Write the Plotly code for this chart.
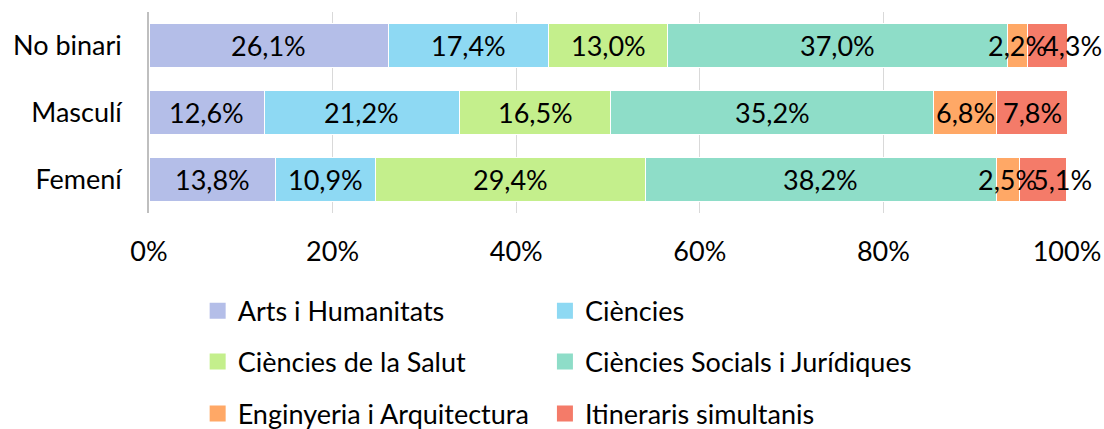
import plotly.graph_objects as go
import numpy as np

categories = ["Femení", "Masculí", "No binari"]
series_names = ["Arts i Humanitats", "Ciències", "Ciències de la Salut",
                "Ciències Socials i Jurídiques", "Enginyeria i Arquitectura",
                "Itineraris simultanis"]
arts = [13.8, 12.6, 26.1]
ciencies = [10.9, 21.2, 17.4]
salut = [29.4, 16.5, 13.0]
socials = [38.2, 35.2, 37.0]
enginyeria = [2.5, 6.8, 2.2]
itineraris = [5.1, 7.8, 4.3]
tick_vals = [0, 20, 40, 60, 80, 100]
tick_text = ["0%", "20%", "40%", "60%", "80%", "100%"]

colors = ["#B4BEE8", "#8ED9F3", "#C4EF8C", "#8EDDC8", "#FFA866", "#F47B69"]
values = [arts, ciencies, salut, socials, enginyeria, itineraris]
legend_ids = ["legend", "legend2", "legend3", "legend4", "legend5", "legend6"]

FONT = "Lato"
FS = 27
PLOT_W = 918          # plot area width in px (used to nudge crowded labels)
LABEL_W = 55          # approximate label width in px

fig = go.Figure()
for name, vals, col in zip(series_names, values, colors):
    fig.add_trace(go.Bar(
        y=categories, x=vals, name=name, orientation="h", showlegend=False,
        marker=dict(color=col, line=dict(color="white", width=1)),
        hoverinfo="skip",
    ))

# legend proxies (larger square swatches)
for name, col, lg in zip(series_names, colors, legend_ids):
    fig.add_trace(go.Scatter(
        x=[None], y=[None], mode="markers", name=name, legend=lg,
        marker=dict(symbol="square", size=16, color=col, line=dict(width=0)),
    ))

# value labels on top of all bars, nudging crowded neighbours apart
arr = np.array(values)
cum = np.cumsum(arr, axis=0) - arr
mids = cum + arr / 2
annotations = []
for j, cat in enumerate(categories):
    prev_px = None
    for i in range(len(values)):
        px = mids[i, j] * PLOT_W / 100
        shift = 0
        if prev_px is not None and px - prev_px < LABEL_W:
            shift = LABEL_W - (px - prev_px)
        prev_px = px + shift
        annotations.append(dict(
            x=mids[i, j], y=cat, xref="x", yref="y", showarrow=False,
            text=f"{arr[i, j]:.1f}%".replace(".", ","), xshift=shift,
            font=dict(color="black", size=FS, family=FONT),
        ))

def leg(x, y):
    return dict(orientation="h", x=x, xanchor="left", y=y, yanchor="middle",
                font=dict(size=FS, family=FONT), bgcolor="rgba(0,0,0,0)")

col1, col2 = 0.053, 0.4313
rows = [-0.488, -0.741, -1.0]

fig.update_layout(
    barmode="stack", bargap=0.343,
    width=1104, height=429,
    margin=dict(l=149, r=37, t=12, b=216, autoexpand=False),
    plot_bgcolor="white", paper_bgcolor="white",
    font=dict(family=FONT, size=FS, color="black"),
    annotations=annotations,
    xaxis=dict(range=[0, 100], tickvals=tick_vals, ticktext=tick_text,
               showgrid=True, gridcolor="#D9D9D9", gridwidth=1,
               zeroline=False, showline=False, ticks="", ticklen=0,
               ticklabelstandoff=20, tickfont=dict(size=FS)),
    yaxis=dict(showline=True, linecolor="#BFBFBF", linewidth=1.5,
               ticks="", ticklabelstandoff=20, tickfont=dict(size=FS)),
    legend=leg(col1, rows[0]),
    legend2=leg(col2, rows[0]),
    legend3=leg(col1, rows[1]),
    legend4=leg(col2, rows[1]),
    legend5=leg(col1, rows[2]),
    legend6=leg(col2, rows[2]),
)
fig.write_html("out.html", config={"displayModeBar": False},
               post_script="document.body.style.margin='0';document.body.style.padding='0';")
